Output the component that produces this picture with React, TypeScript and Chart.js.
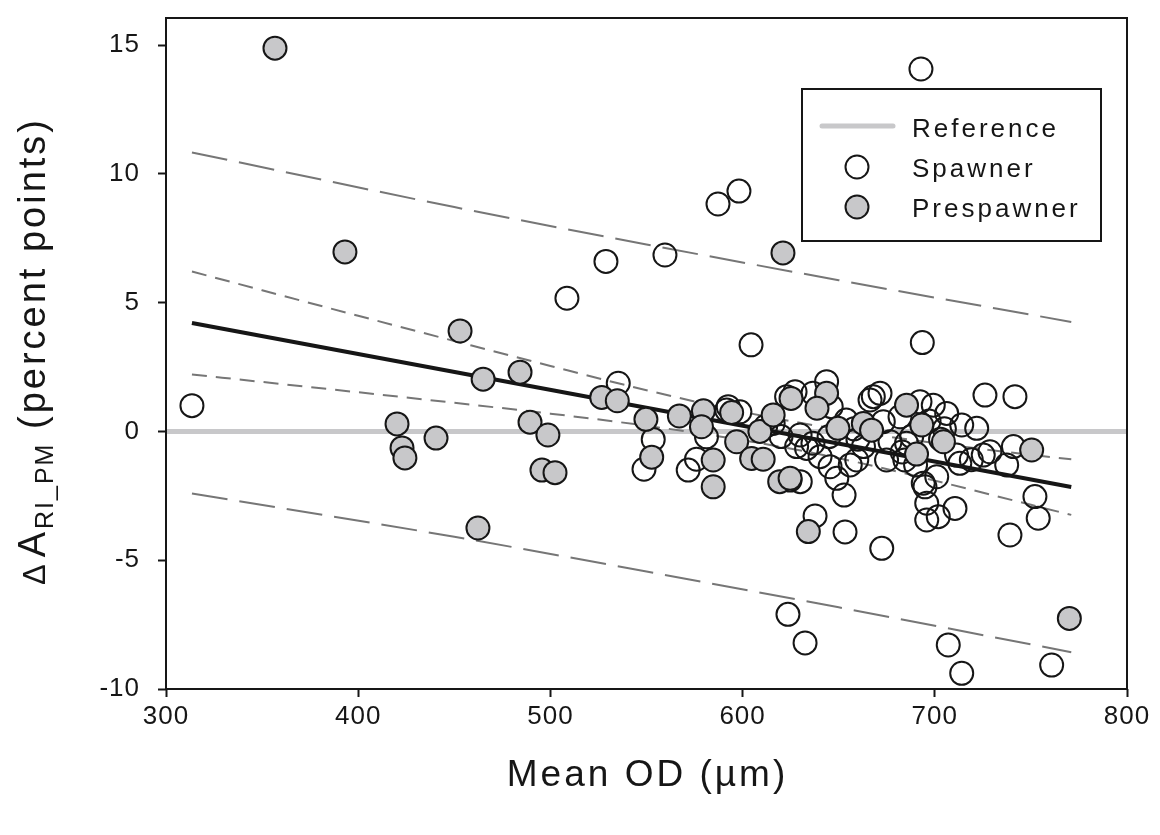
import React, { useEffect, useRef } from "react";
import { Chart, registerables } from "chart.js";

Chart.register(...registerables);

const FONT = '"Liberation Sans", Arial, Helvetica, sans-serif';

// Spawner (open circles)
const spawnerOD = [
  313.5, 508.6, 528.9, 559.6, 587.2, 598.1, 692.8, 604.4, 693.5, 535.3,
  553.5, 548.7, 581.2, 576.0, 571.7, 592.5, 598.6, 591.7, 615.9, 622.9,
  627.3, 643.7, 636.6, 646.1, 653.9, 629.9, 633.3, 628.1, 636.6, 624.7,
  630.0, 645.5, 640.3, 649.0, 668.0, 671.5, 666.3, 692.3, 699.2, 706.2,
  714.0, 721.8, 673.2, 681.9, 676.7, 685.3, 674.9, 684.4, 659.4, 711.3,
  725.2, 701.0, 713.0, 694.0, 662.9, 726.1, 741.7, 740.9, 737.4, 728.7,
  652.8, 653.3, 672.4, 694.9, 695.8, 695.8, 701.8, 710.5, 752.1, 753.8,
  739.1, 623.6, 632.5, 707.0, 714.0, 760.8, 637.7, 612.0, 658.0, 660.0,
  688.0, 697.0, 703.0, 683.0, 656.0, 690.0, 719.0, 705.0, 645.0, 620.0,
];
const spawnerDelta = [
  1.0, 5.17, 6.6, 6.85, 8.83, 9.33, 14.07, 3.36, 3.45, 1.87,
  -0.31, -1.47, -0.21, -1.08, -1.5, 0.96, 0.76, 0.83, 0.31, 1.35,
  1.54, 1.93, 1.48, 0.96, 0.44, -0.14, -0.66, -0.59, -0.46, -1.89,
  -1.95, -1.37, -0.98, -1.82, 1.35, 1.48, 1.22, 1.15, 1.02, 0.7,
  0.25, 0.12, 0.38, 0.57, -0.4, -0.46, -1.11, -1.11, -1.11, -0.92,
  -0.92, -1.76, -1.24, -2.01, -0.59, 1.41, 1.35, -0.59, -1.3, -0.79,
  -2.47, -3.9, -4.54, -2.15, -2.79, -3.44, -3.31, -2.99, -2.53, -3.37,
  -4.02, -7.1, -8.21, -8.29, -9.39, -9.07, -3.28, 0.2, 0.1, -0.3,
  -0.2, 0.4, -0.3, -0.8, -1.3, -1.3, -1.1, 0.1, -0.2, -0.2,
];

// Prespawner (grey filled circles)
const prespawnerOD = [
  356.7, 393.1, 453.0, 465.0, 484.2, 420.2, 422.8, 424.3, 440.5, 489.4,
  498.7, 495.6, 502.4, 462.3, 621.0, 526.7, 534.8, 549.7, 552.7, 567.1,
  579.6, 578.6, 584.7, 584.7, 594.3, 596.9, 604.7, 610.7, 609.0, 615.9,
  625.2, 643.7, 638.7, 649.6, 662.8, 667.1, 685.3, 693.2, 690.5, 704.5,
  750.4, 619.3, 624.7, 634.2, 770.0,
];
const prespawnerDelta = [
  14.88, 6.97, 3.9, 2.03, 2.3, 0.29, -0.64, -1.03, -0.26, 0.36,
  -0.14, -1.5, -1.6, -3.75, 6.93, 1.32, 1.19, 0.47, -1.0, 0.6,
  0.8, 0.18, -1.11, -2.15, 0.73, -0.4, -1.05, -1.08, 0.0, 0.64,
  1.28, 1.48, 0.9, 0.12, 0.31, 0.05, 1.02, 0.25, -0.88, -0.4,
  -0.72, -1.95, -1.82, -3.89, -7.26,
];

// Regression line
const regOD = [313.5, 771];
const regDelta = [4.21, -2.16];

// 95% confidence band
const ciOD = [313.5, 350, 400, 450, 500, 550, 600, 650, 700, 750, 771];
const ciUpper = [6.21, 5.48, 4.49, 3.51, 2.54, 1.6, 0.76, 0.08, -0.45, -0.91, -1.08];
const ciLower = [2.21, 1.92, 1.52, 1.11, 0.69, 0.22, -0.34, -1.04, -1.91, -2.85, -3.24];

// 95% prediction band
const predOD = [313.5, 450, 550, 650, 771];
const predUpper = [10.83, 8.71, 7.26, 5.87, 4.25];
const predLower = [-2.41, -4.09, -5.44, -6.83, -8.57];

// Reference line
const refOD = [300, 800];
const refDelta = [0, 0];

const xTicks = [300, 400, 500, 600, 700, 800];
const yTicks = [-10, -5, 0, 5, 10, 15];
const legendLabels = ["Reference", "Spawner", "Prespawner"];
const xTitle = "Mean OD (µm)";
const yTitleMain = "A";
const yTitleDelta = "Δ";
const yTitleSub = "RI_PM";
const yTitleRest = " (percent points)";

const GREY_FILL = "#c8c8ca";
const INK = "#161616";

function pts(xs: number[], ys: number[]) {
  return xs.map((x, i) => ({ x, y: ys[i] }));
}

export default function App() {
  const ref = useRef<HTMLCanvasElement>(null);

  useEffect(() => {
    const canvas = ref.current!;

    const decor = {
      id: "decor",
      beforeDraw(chart: any) {
        (chart.ctx as any).letterSpacing = "1px";
      },
      afterDatasetsDraw(chart: any) {
        const ctx = chart.ctx as CanvasRenderingContext2D;
        ctx.save();
        // legend box
        ctx.fillStyle = "#fff";
        ctx.fillRect(802, 89, 299, 152);
        ctx.strokeStyle = INK;
        ctx.lineWidth = 2;
        ctx.strokeRect(802, 89, 299, 152);
        // reference line sample
        ctx.strokeStyle = GREY_FILL;
        ctx.lineWidth = 5;
        ctx.lineCap = "round";
        ctx.beginPath();
        ctx.moveTo(822, 126);
        ctx.lineTo(893, 126);
        ctx.stroke();
        // circles
        ctx.lineWidth = 2;
        ctx.strokeStyle = INK;
        ctx.beginPath();
        ctx.arc(857, 167, 11.5, 0, Math.PI * 2);
        ctx.fillStyle = "#fff";
        ctx.fill();
        ctx.stroke();
        ctx.beginPath();
        ctx.arc(857, 207, 11.5, 0, Math.PI * 2);
        ctx.fillStyle = GREY_FILL;
        ctx.fill();
        ctx.stroke();
        // labels
        (ctx as any).letterSpacing = "3px";
        ctx.font = `26px ${FONT}`;
        ctx.fillStyle = INK;
        ctx.textAlign = "left";
        ctx.textBaseline = "alphabetic";
        ctx.fillText(legendLabels[0], 912, 137);
        ctx.fillText(legendLabels[1], 912, 177);
        ctx.fillText(legendLabels[2], 912, 217);
        ctx.restore();
      },
      afterDraw(chart: any) {
        const ctx = chart.ctx as CanvasRenderingContext2D;
        const a = chart.chartArea;
        ctx.save();
        // frame
        ctx.strokeStyle = INK;
        ctx.lineWidth = 2;
        ctx.strokeRect(a.left, a.top, a.right - a.left, a.bottom - a.top);

        // x title
        (ctx as any).letterSpacing = "3px";
        ctx.fillStyle = INK;
        ctx.font = `37px ${FONT}`;
        ctx.textAlign = "center";
        ctx.textBaseline = "alphabetic";
        ctx.fillText(xTitle, (a.left + a.right) / 2 + 1, 786);

        // y title (rotated, with subscript)
        const big = `38px ${FONT}`;
        const delta = `31px ${FONT}`;
        const small = `25px ${FONT}`;
        ctx.textAlign = "left";
        ctx.font = delta;
        const wD = ctx.measureText(yTitleDelta).width + 4;
        ctx.font = big;
        const wA = ctx.measureText(yTitleMain).width;
        const wR = ctx.measureText(yTitleRest).width;
        ctx.font = small;
        (ctx as any).letterSpacing = "2px";
        const wS = ctx.measureText(yTitleSub).width;
        (ctx as any).letterSpacing = "3px";
        const total = wD + wA + wS + wR;
        const cy = 351;
        ctx.translate(45, cy + total / 2);
        ctx.rotate(-Math.PI / 2);
        let x = 0;
        ctx.font = delta;
        ctx.fillText(yTitleDelta, x, 0);
        x += wD;
        ctx.font = big;
        ctx.fillText(yTitleMain, x, 0);
        x += wA;
        ctx.font = small;
        (ctx as any).letterSpacing = "2px";
        ctx.fillText(yTitleSub, x, 8);
        x += wS;
        (ctx as any).letterSpacing = "3px";
        ctx.font = big;
        ctx.fillText(yTitleRest, x, 0);
        ctx.restore();
      },
    };

    const chart = new Chart(canvas, {
      type: "scatter",
      data: {
        datasets: [
          {
            label: "Prespawner",
            data: pts(prespawnerOD, prespawnerDelta),
            pointRadius: 11.5,
            pointBackgroundColor: GREY_FILL,
            pointBorderColor: INK,
            pointBorderWidth: 2,
            backgroundColor: GREY_FILL,
            borderColor: INK,
            borderWidth: 2,
            order: 0,
          },
          {
            label: "Spawner",
            data: pts(spawnerOD, spawnerDelta),
            pointRadius: 11.5,
            pointBackgroundColor: "rgba(255,255,255,0)",
            pointBorderColor: INK,
            pointBorderWidth: 2,
            backgroundColor: "rgba(255,255,255,0)",
            borderColor: INK,
            borderWidth: 2,
            order: 1,
          },
          {
            label: "Regression",
            data: pts(regOD, regDelta),
            showLine: true,
            pointRadius: 0,
            borderColor: INK,
            borderWidth: 4,
            fill: false,
            order: 2,
          },
          {
            label: "CI upper",
            data: pts(ciOD, ciUpper),
            showLine: true,
            pointRadius: 0,
            borderColor: "#767676",
            borderWidth: 2,
            borderDash: [15, 9],
            cubicInterpolationMode: "monotone",
            fill: false,
            order: 3,
          },
          {
            label: "CI lower",
            data: pts(ciOD, ciLower),
            showLine: true,
            pointRadius: 0,
            borderColor: "#767676",
            borderWidth: 2,
            borderDash: [15, 9],
            cubicInterpolationMode: "monotone",
            fill: false,
            order: 3,
          },
          {
            label: "PI upper",
            data: pts(predOD, predUpper),
            showLine: true,
            pointRadius: 0,
            borderColor: "#767676",
            borderWidth: 2,
            borderDash: [36, 12],
            cubicInterpolationMode: "monotone",
            fill: false,
            order: 4,
          },
          {
            label: "PI lower",
            data: pts(predOD, predLower),
            showLine: true,
            pointRadius: 0,
            borderColor: "#767676",
            borderWidth: 2,
            borderDash: [36, 12],
            cubicInterpolationMode: "monotone",
            fill: false,
            order: 4,
          },
          {
            label: "Reference",
            data: pts(refOD, refDelta),
            showLine: true,
            pointRadius: 0,
            borderColor: GREY_FILL,
            borderWidth: 5,
            fill: false,
            order: 5,
          },
        ],
      },
      options: {
        responsive: false,
        animation: false,
        events: [],
        layout: { padding: { top: 18, right: 33, left: 0, bottom: 0 } },
        plugins: {
          legend: { display: false },
          tooltip: { enabled: false },
          title: { display: false },
        },
        scales: {
          x: {
            type: "linear",
            min: 300,
            max: 800,
            afterFit: (s: any) => {
              s.height = 146;
              s.paddingLeft = 0;
              s.paddingRight = 0;
            },
            afterBuildTicks: (s: any) => {
              s.ticks = xTicks.map((v) => ({ value: v }));
            },
            ticks: {
              font: { family: FONT, size: 26 },
              color: INK,
              padding: 4,
              maxRotation: 0,
              callback: (v: any) => String(v),
            },
            grid: {
              display: true,
              drawOnChartArea: false,
              drawTicks: true,
              tickLength: 8,
              tickColor: INK,
              tickWidth: 2,
            },
            border: { display: false },
          },
          y: {
            type: "linear",
            min: -10,
            max: 16.05,
            afterFit: (s: any) => {
              s.width = 166;
              s.paddingTop = 0;
              s.paddingBottom = 0;
            },
            afterBuildTicks: (s: any) => {
              s.ticks = yTicks.map((v) => ({ value: v }));
            },
            ticks: {
              font: { family: FONT, size: 26 },
              color: INK,
              padding: 18,
              callback: (v: any) => String(v),
            },
            grid: {
              display: true,
              drawOnChartArea: false,
              drawTicks: true,
              tickLength: 8,
              tickColor: INK,
              tickWidth: 2,
            },
            border: { display: false },
          },
        },
      },
      plugins: [decor],
    } as any);

    return () => chart.destroy();
  }, []);

  return (
    <div
      style={{
        position: "fixed",
        left: 0,
        top: 0,
        width: 1160,
        height: 835,
        background: "#fff",
      }}
    >
      <canvas ref={ref} width={1160} height={835} style={{ width: 1160, height: 835, display: "block" }} />
    </div>
  );
}
